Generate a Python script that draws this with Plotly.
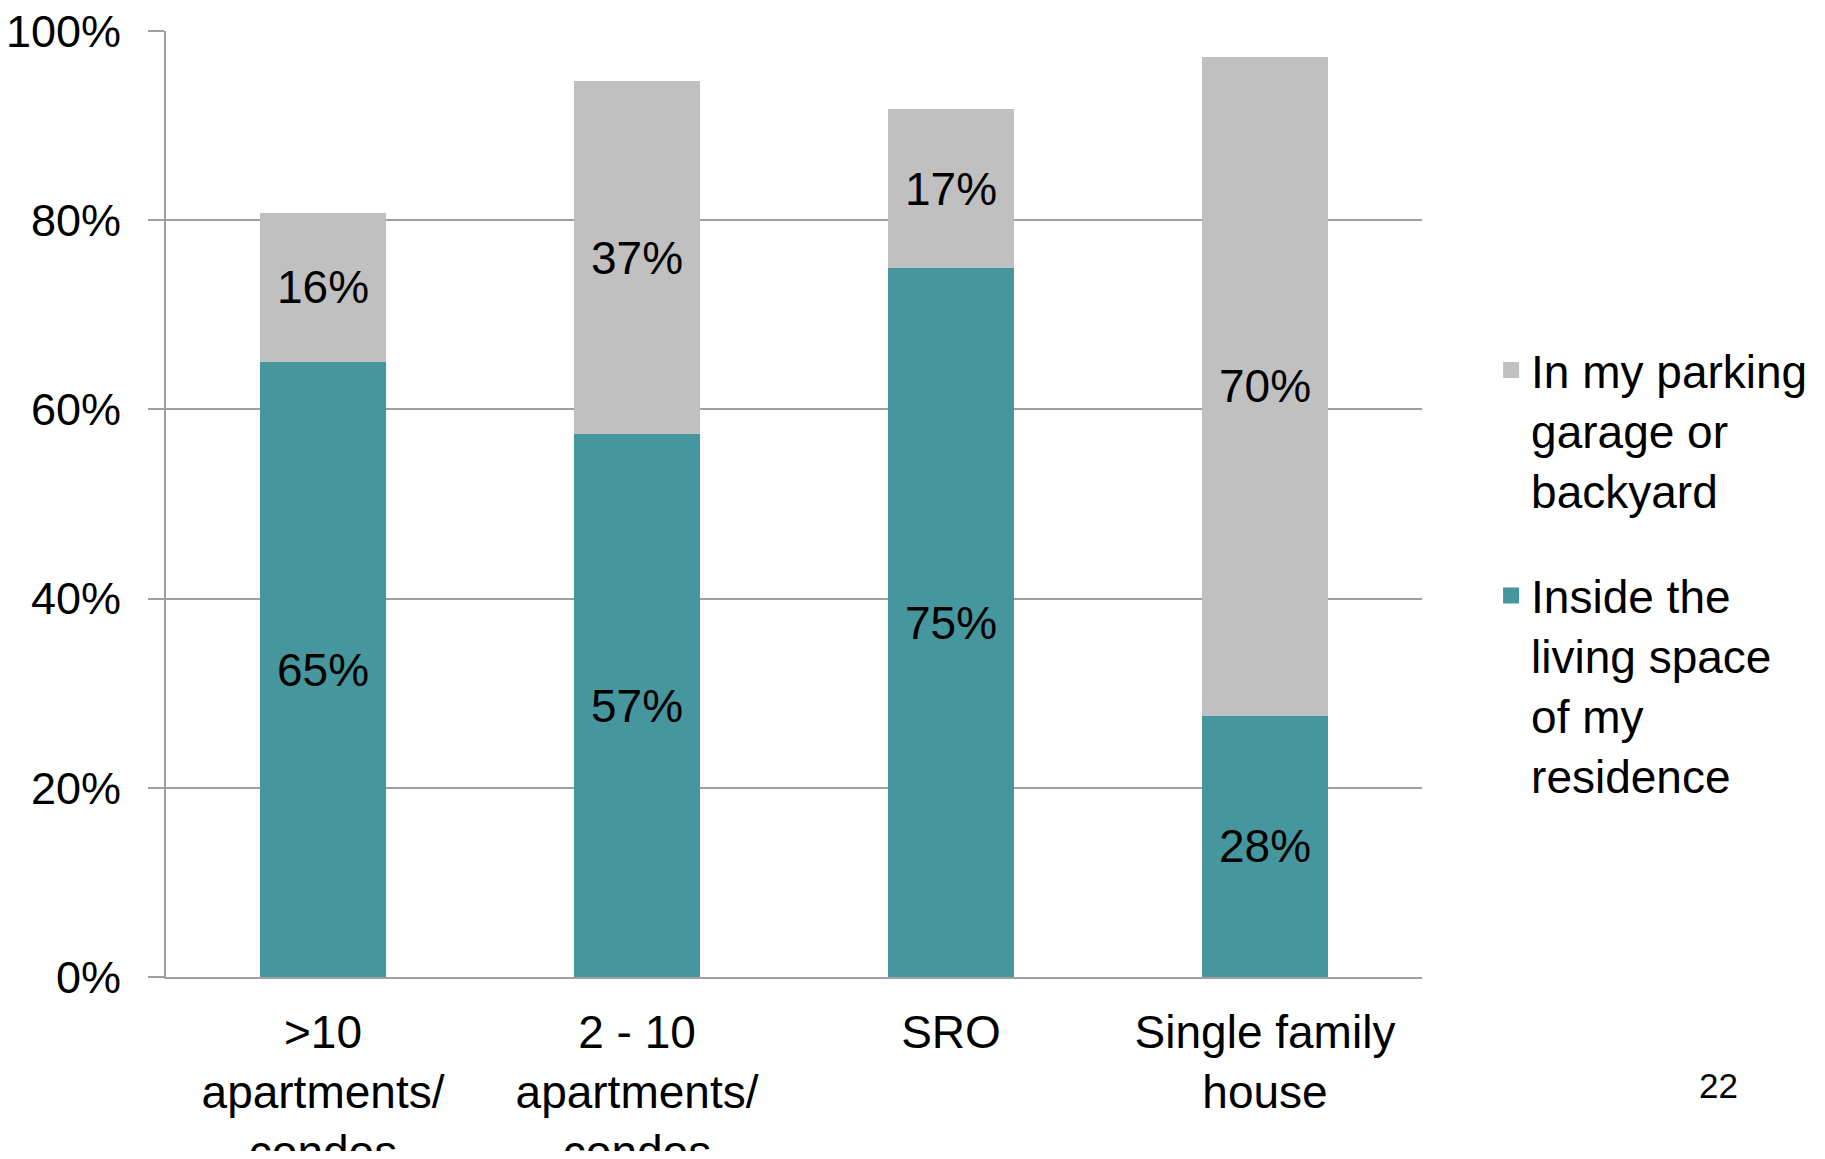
import plotly.graph_objects as go

categories = [">10<br>apartments/<br>condos", "2 - 10<br>apartments/<br>condos", "SRO", "Single family<br>house"]
inside_vals = [65.0, 57.4, 74.9, 27.6]
parking_vals = [15.8, 37.3, 16.9, 69.7]
tick_vals = [0, 20, 40, 60, 80, 100]
tick_text = ["0%", "20%", "40%", "60%", "80%", "100%"]
inside_name = "Inside the<br>living space<br>of my<br>residence"
parking_name = "In my parking<br>garage or<br>backyard"

TEAL = "#46969E"
GREY = "#C0C0C0"
FONT = "Liberation Sans, Arial, sans-serif"

fig = go.Figure()
fig.add_trace(go.Bar(
    x=categories, y=inside_vals, marker=dict(color=TEAL, line=dict(width=0)),
    texttemplate="%{y:.0f}%", textposition="inside", insidetextanchor="middle",
    textfont=dict(size=46, color="black", family=FONT), showlegend=False,
    width=0.404, hoverinfo="skip",
))
fig.add_trace(go.Bar(
    x=categories, y=parking_vals, marker=dict(color=GREY, line=dict(width=0)),
    texttemplate="%{y:.0f}%", textposition="inside", insidetextanchor="middle",
    textfont=dict(size=46, color="black", family=FONT), showlegend=False,
    width=0.404, hoverinfo="skip",
))
# legend proxies
fig.add_trace(go.Scatter(x=[None], y=[None], mode="markers", name=inside_name,
                         marker=dict(symbol="square", size=21, color=TEAL),
                         legendgroup="a", legendrank=2))
fig.add_trace(go.Scatter(x=[None], y=[None], mode="markers", name=parking_name,
                         marker=dict(symbol="square", size=21, color=GREY),
                         legendgroup="b", legendrank=1))

fig.update_layout(
    barmode="stack",
    width=1809, height=1143,
    margin=dict(l=158, r=395, t=23, b=174, autoexpand=False),
    paper_bgcolor="white", plot_bgcolor="white",
    font=dict(family=FONT, size=46, color="black"),
    legend=dict(
        x=1.055, xanchor="left", y=0.68, yanchor="top",
        valign="top", tracegroupgap=43,
        font=dict(size=46, family=FONT, color="black"),
    ),
    annotations=[dict(text="22", xref="paper", yref="paper",
                      x=(1718 - 166) / 1256, y=(977.3 - 1086) / 946.6,
                      showarrow=False, font=dict(size=35, family=FONT, color="black"),
                      xanchor="center", yanchor="middle")],
)
fig.update_xaxes(
    type="category", range=[-0.5, 3.5], automargin=False,
    showline=True, linecolor="#A0A0A0", linewidth=2,
    ticks="", showgrid=False, tickfont=dict(size=46, family=FONT),
    ticklabelstandoff=14, ticklabeloverflow="allow",
)
fig.update_yaxes(
    range=[0, 100], tickvals=tick_vals, ticktext=tick_text, automargin=False,
    showgrid=True, gridcolor="#A0A0A0", gridwidth=2,
    showline=True, linecolor="#A0A0A0", linewidth=2,
    ticks="outside", ticklen=16, tickcolor="#A0A0A0", tickwidth=2,
    tickfont=dict(size=45, family=FONT), ticklabelstandoff=18,
    ticklabeloverflow="allow", zeroline=False,
)

fig.write_html("out.html")
